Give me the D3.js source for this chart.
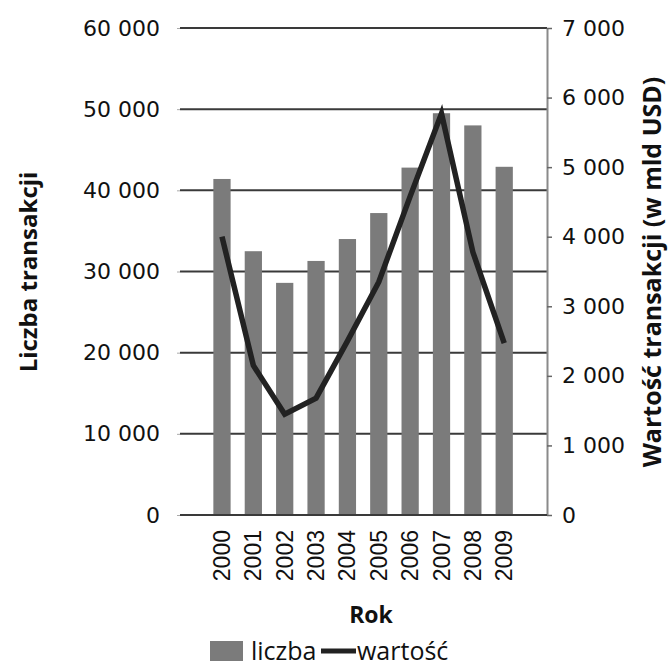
<!DOCTYPE html>
<html><head><meta charset="utf-8">
<script src="https://cdn.jsdelivr.net/npm/d3@7/dist/d3.min.js"></script>
<style>body{margin:0;background:#fff}svg{display:block}</style>
</head><body>
<svg id="c" width="672" height="669"></svg>
<script>
const years = ["2000","2001","2002","2003","2004","2005","2006","2007","2008","2009"];
const liczba = [41400, 32500, 28600, 31300, 34000, 37200, 42800, 49500, 48000, 42900];
const wartosc = [4000, 2150, 1450, 1680, 2500, 3350, 4580, 5770, 3780, 2470];
const leftTicks = [0, 10000, 20000, 30000, 40000, 50000, 60000];
const rightTicks = [0, 1000, 2000, 3000, 4000, 5000, 6000, 7000];
const fmt = v => d3.format(",")(v).replace(/,/g, " ");

const svg = d3.select("#c");
const plotL = 180, plotR = 547, plotTop = 28, base = 515;
const yL = d3.scaleLinear().domain([0, 60000]).range([base, plotTop]);
const yR = d3.scaleLinear().domain([0, 7000]).range([base, plotTop]);
const x = d3.scaleBand().domain(years).range([206.3, 519.9]).paddingInner(0.45).paddingOuter(0.225);

// gridlines
svg.append("g").selectAll("line").data(leftTicks).join("line")
  .attr("x1", plotL).attr("x2", plotR)
  .attr("y1", d => yL(d)).attr("y2", d => yL(d))
  .attr("stroke", "#3a3a3a").attr("stroke-width", 2);

// left axis labels
const gL = svg.append("g").attr("transform", `translate(${plotL},0)`)
  .call(d3.axisLeft(yL).tickValues(leftTicks).tickFormat(fmt).tickSize(3).tickPadding(17));
gL.select(".domain").remove();
gL.selectAll(".tick line").attr("stroke", "#aaa");
gL.selectAll("text").attr("font-family", "DejaVu Sans").attr("font-size", 22).attr("fill", "#111");

// right axis
const gR = svg.append("g").attr("transform", `translate(${plotR},0)`)
  .call(d3.axisRight(yR).tickValues(rightTicks).tickFormat(fmt).tickSize(5).tickPadding(10).tickSizeOuter(0));
gR.select(".domain").attr("stroke", "#8a8a8a").attr("stroke-width", 2);
gR.selectAll(".tick line").attr("stroke", "#666").attr("stroke-width", 1.5);
gR.selectAll("text").attr("font-family", "DejaVu Sans").attr("font-size", 22).attr("fill", "#111");

// bars
svg.append("g").selectAll("rect").data(liczba).join("rect")
  .attr("x", (d, i) => x(years[i])).attr("width", x.bandwidth())
  .attr("y", d => yL(d)).attr("height", d => base - yL(d))
  .attr("fill", "#7b7b7b");

// baseline redraw
svg.append("line").attr("x1", plotL).attr("x2", plotR).attr("y1", base).attr("y2", base)
  .attr("stroke", "#3a3a3a").attr("stroke-width", 2);

// line
const line = d3.line().x((d, i) => x(years[i]) + x.bandwidth() / 2).y(d => yR(d));
svg.append("path").datum(wartosc).attr("d", line)
  .attr("fill", "none").attr("stroke", "#222").attr("stroke-width", 5.5)
  .attr("stroke-linejoin", "miter");

// x labels
svg.append("g").selectAll("text").data(years).join("text")
  .attr("transform", d => `translate(${x(d) + x.bandwidth() / 2 + 8},530) rotate(-90)`)
  .attr("text-anchor", "end")
  .attr("font-family", "Liberation Sans").attr("font-size", 23).attr("fill", "#111")
  .text(d => d);

// titles
svg.append("text").attr("transform", "translate(37,272) rotate(-90)")
  .attr("text-anchor", "middle").attr("font-family", "Open Sans").attr("font-weight", "bold")
  .attr("font-size", 24).attr("fill", "#111").text("Liczba transakcji");
svg.append("text").attr("transform", "translate(661,272) rotate(-90)")
  .attr("text-anchor", "middle").attr("font-family", "Open Sans").attr("font-weight", "bold")
  .attr("font-size", 25).attr("fill", "#111").text("Wartość transakcji (w mld USD)");
svg.append("text").attr("x", 371).attr("y", 623)
  .attr("text-anchor", "middle").attr("font-family", "Open Sans").attr("font-weight", "bold")
  .attr("font-size", 23).attr("fill", "#111").text("Rok");

// legend
const lg = svg.append("g");
lg.append("rect").attr("x", 210).attr("y", 641).attr("width", 33).attr("height", 20).attr("fill", "#7b7b7b");
lg.append("text").attr("x", 251).attr("y", 660).attr("font-family", "Open Sans").attr("font-size", 25)
  .attr("fill", "#111").text("liczba");
lg.append("line").attr("x1", 321).attr("x2", 356).attr("y1", 651).attr("y2", 651)
  .attr("stroke", "#222").attr("stroke-width", 5);
lg.append("text").attr("x", 357).attr("y", 660).attr("font-family", "Open Sans").attr("font-size", 25)
  .attr("fill", "#111").text("wartość");
</script>
</body></html>
